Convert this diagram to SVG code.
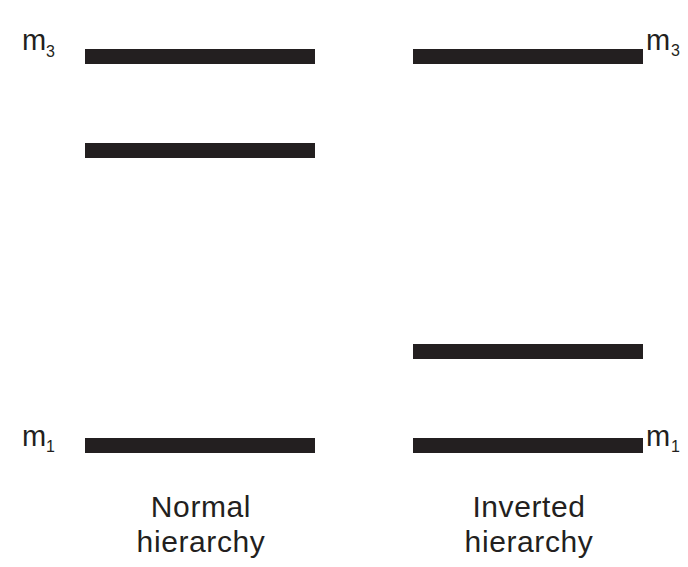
<svg xmlns="http://www.w3.org/2000/svg" width="688" height="567" viewBox="0 0 688 567">
  <style>
    .bar { fill: #231f20; }
    .lbl { font-family: "Liberation Sans", Arial, sans-serif; fill: #231f20; }
    .m { font-size: 29px; }
    .sub { font-size: 16px; }
    .cap { font-size: 30px; text-anchor: middle; letter-spacing: 0.6px; }
  </style>
  <rect width="688" height="567" fill="#ffffff"/>

  <!-- Normal hierarchy levels -->
  <g id="normal-m3">
    <rect class="bar" x="85" y="49" width="230" height="15"/>
    <text class="lbl" x="22" y="50"><tspan class="m">m</tspan><tspan class="sub" x="46" y="57">3</tspan></text>
  </g>
  <g id="normal-m2">
    <rect class="bar" x="85" y="143" width="230" height="15"/>
  </g>
  <g id="normal-m1">
    <rect class="bar" x="85" y="438" width="230" height="15"/>
    <text class="lbl" x="22" y="446"><tspan class="m">m</tspan><tspan class="sub" x="46" y="452">1</tspan></text>
  </g>
  <g id="normal-caption">
    <text class="lbl cap" x="201" y="517">Normal</text>
    <text class="lbl cap" x="201" y="552">hierarchy</text>
  </g>

  <!-- Inverted hierarchy levels -->
  <g id="inverted-m3">
    <rect class="bar" x="413" y="49" width="230" height="15"/>
    <text class="lbl" x="646" y="50"><tspan class="m">m</tspan><tspan class="sub" x="671" y="56">3</tspan></text>
  </g>
  <g id="inverted-m2">
    <rect class="bar" x="413" y="344" width="230" height="15"/>
  </g>
  <g id="inverted-m1">
    <rect class="bar" x="413" y="438" width="230" height="15"/>
    <text class="lbl" x="646" y="446"><tspan class="m">m</tspan><tspan class="sub" x="671" y="452">1</tspan></text>
  </g>
  <g id="inverted-caption">
    <text class="lbl cap" x="529" y="517">Inverted</text>
    <text class="lbl cap" x="529" y="552">hierarchy</text>
  </g>
</svg>
